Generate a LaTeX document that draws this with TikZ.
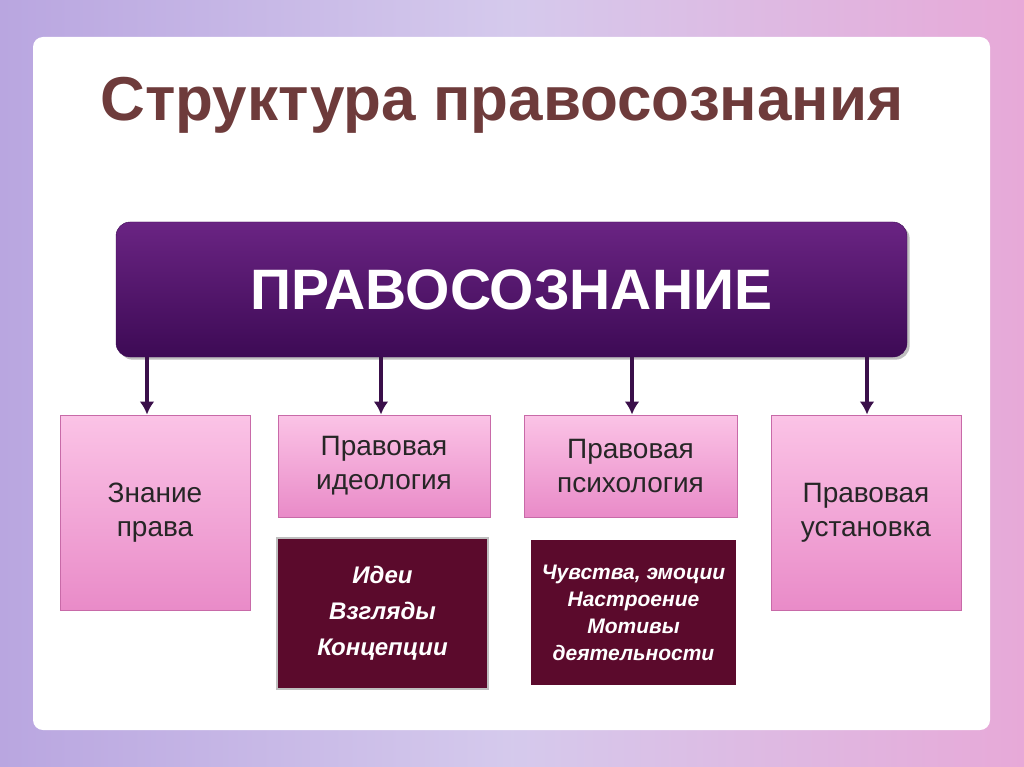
\documentclass[tikz,border=0pt]{standalone}
\usepackage{fontspec}
\setmainfont{Liberation Sans}
\usetikzlibrary{shadows,arrows.meta}
\definecolor{bgA}{HTML}{B9A6E0}
\definecolor{bgB}{HTML}{E7A9D8}
\definecolor{titleC}{HTML}{6E3B3B}
\definecolor{mainA}{HTML}{6A2483}
\definecolor{mainB}{HTML}{3D0A55}
\definecolor{pinkA}{HTML}{FBC3E6}
\definecolor{pinkB}{HTML}{E98BC8}
\definecolor{pinkD}{HTML}{C86AA8}
\definecolor{maroon}{HTML}{5B0A2C}
\definecolor{arrowC}{HTML}{3A0F4A}
\tikzset{
  pinkbox/.style={draw=pinkD, line width=1pt, top color=pinkA, bottom color=pinkB, align=center, font=\fontsize{28}{34}\selectfont, text=black!85},
  darkbox/.style={draw=black!25, line width=2pt, fill=maroon, align=center, text=white, font=\fontsize{24}{36}\selectfont\bfseries\itshape},
  conn/.style={draw=arrowC, line width=3.5pt, -{Latex[length=13pt,width=15pt]}}
}
\begin{document}
\begin{tikzpicture}[x=1pt,y=-1pt]
\useasboundingbox (0,0) rectangle (1024,767);
\shade[left color=bgA, right color=bgB, middle color=bgA!60!white] (0,0) rectangle (1024,767);
\fill[white, rounded corners=10pt] (33,37) rectangle (990,730);
\node (title) at (502,105) [text=titleC, font=\fontsize{62}{66}\selectfont\bfseries] {Структура правосознания};
\draw[rounded corners=14pt, top color=mainA, bottom color=mainB, draw=mainB, drop shadow] (116,222) rectangle (907,357);
\node (main) at (511.5,290) [text=white, font=\fontsize{57}{62}\selectfont\bfseries] {ПРАВОСОЗНАНИЕ};
\coordinate (m1) at (147,357); \coordinate (m2) at (381,357);
\coordinate (m3) at (632,357); \coordinate (m4) at (867,357);
\node (b1) [pinkbox, minimum width=190pt, minimum height=195pt] at (155,512.5) {Знание\\права};
\node (b2) [pinkbox, minimum width=212pt, minimum height=102pt] at (384,466) {Правовая\\идеология};
\node (b3) [pinkbox, minimum width=213pt, minimum height=102pt] at (630.5,466) {Правовая\\психология};
\node (b4) [pinkbox, minimum width=190pt, minimum height=195pt] at (866,512.5) {Правовая\\установка};
\draw[conn] (m1) -- (b1.north -| m1);
\draw[conn] (m2) -- (b2.north -| m2);
\draw[conn] (m3) -- (b3.north -| m3);
\draw[conn] (m4) -- (b4.north -| m4);
\node (d1) [darkbox, minimum width=211pt, minimum height=151pt] at (382.5,613.5) {Идеи\\Взгляды\\Концепции};
\node (d2) [darkbox, draw=none, minimum width=205pt, minimum height=145pt, font=\fontsize{21}{27}\selectfont\bfseries\itshape] at (633.5,612.5) {Чувства, эмоции\\Настроение\\Мотивы\\деятельности};
\end{tikzpicture}
\end{document}
